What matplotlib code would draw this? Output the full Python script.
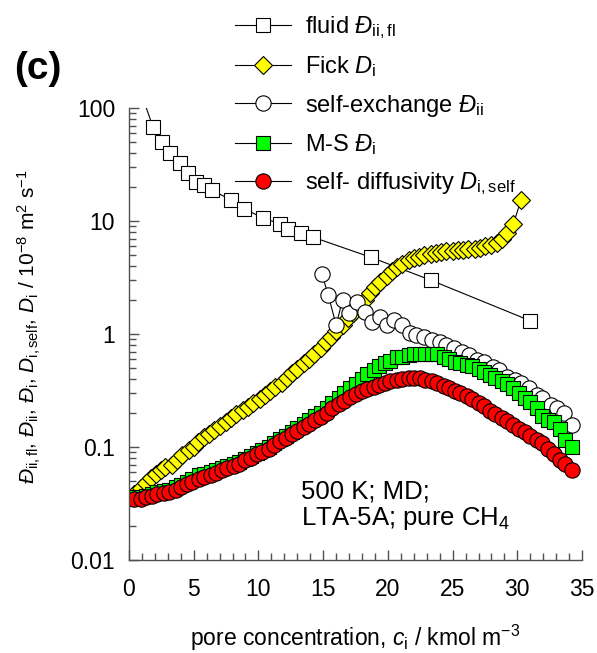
import numpy as np
import matplotlib
matplotlib.use("Agg")
import matplotlib.pyplot as plt

plt.rcParams['font.family'] = ['Liberation Sans', 'DejaVu Sans']
plt.rcParams['mathtext.fontset'] = 'custom'
plt.rcParams['mathtext.rm'] = 'Liberation Sans'
plt.rcParams['mathtext.it'] = 'Liberation Sans:italic'
plt.rcParams['mathtext.bf'] = 'Liberation Sans:bold'

# fluid phase MS diffusivity
c_fl = [1.0, 1.85, 2.54, 3.16, 3.93, 4.55, 5.17, 5.78, 6.40, 7.86, 8.89, 10.35,
        11.64, 12.28, 13.3, 14.2, 18.7, 23.3, 31.0]
D_fl = [130, 68, 50, 40, 32.6, 26.6, 22.1, 20.8, 18.8, 15.4, 12.9, 10.6,
        9.5, 8.45, 7.8, 7.2, 4.77, 3.0, 1.31]

# Fick diffusivity
c_fick = [0.4, 0.9, 1.3, 1.7, 2.1, 2.5, 2.8, 3.3, 3.7, 4.1, 4.6, 5.0, 5.3, 5.8,
          6.2, 6.6, 7.0, 7.5, 7.9, 8.3, 8.8, 9.2, 9.6, 10.1, 10.5, 10.9, 11.3,
          11.8, 12.2, 12.6, 13.0, 13.5, 13.9, 14.3, 14.8, 15.2, 15.6, 16.0,
          16.5, 16.9, 17.3, 17.7, 18.2, 18.6, 19.0, 19.4, 19.9, 20.3, 20.7,
          21.1, 21.6, 22.0, 22.4, 22.8, 23.3, 23.7, 24.1, 24.5, 25.0, 25.4,
          25.8, 26.2, 26.7, 27.1, 27.5, 28.0, 28.4, 28.8, 29.2, 29.7, 30.3]
D_fick = [0.038, 0.043, 0.048, 0.053, 0.058, 0.062, 0.066, 0.070, 0.077, 0.085,
          0.094, 0.100, 0.110, 0.122, 0.130, 0.142, 0.155, 0.168, 0.180, 0.195,
          0.212, 0.226, 0.245, 0.268, 0.29, 0.31, 0.34, 0.37, 0.41, 0.45, 0.49,
          0.55, 0.60, 0.67, 0.75, 0.85, 0.95, 1.07, 1.2, 1.38, 1.55, 1.78, 2.0,
          2.3, 2.6, 2.9, 3.25, 3.6, 3.9, 4.2, 4.5, 4.7, 4.85, 5.0, 5.1, 5.2,
          5.3, 5.4, 5.45, 5.5, 5.55, 5.6, 5.7, 5.8, 5.95, 6.1, 6.4, 7.0, 7.8,
          9.5, 15.5]

# self-exchange
c_ex = [14.9, 15.4, 16.0, 16.5, 17.0, 17.6, 18.2, 18.8, 19.4, 19.9, 20.5, 21.1,
        21.7, 22.2, 22.8, 23.4, 24.0, 24.5, 25.1, 25.7, 26.3, 26.9, 27.4, 28.1,
        28.6, 29.2, 29.8, 30.3, 30.9, 31.5, 31.9, 32.6, 33.1, 33.6, 34.2]
D_ex = [3.4, 2.2, 1.2, 2.0, 1.55, 1.92, 1.57, 1.28, 1.41, 1.2, 1.33, 1.2, 1.02,
        0.98, 0.94, 0.885, 0.85, 0.80, 0.75, 0.69, 0.65, 0.59, 0.56, 0.51, 0.48,
        0.42, 0.39, 0.37, 0.33, 0.29, 0.27, 0.235, 0.22, 0.20, 0.157]

# M-S and self diffusivity share the loadings
c_md = [0.4, 0.9, 1.3, 1.8, 2.2, 2.7, 3.1, 3.6, 4.0, 4.5, 4.9, 5.4, 5.8, 6.3,
        6.7, 7.2, 7.6, 8.1, 8.5, 9.0, 9.4, 9.9, 10.3, 10.8, 11.2, 11.7, 12.1,
        12.6, 13.0, 13.5, 13.9, 14.4, 14.8, 15.3, 15.7, 16.2, 16.6, 17.1, 17.5,
        18.0, 18.4, 18.9, 19.3, 19.8, 20.2, 20.7, 21.1, 21.6, 22.0, 22.5, 22.9,
        23.4, 23.8, 24.3, 24.7, 25.2, 25.6, 26.1, 26.5, 27.0, 27.4, 27.9, 28.3,
        28.8, 29.2, 29.7, 30.1, 30.6, 31.0, 31.5, 31.9, 32.4, 32.8, 33.3, 33.7,
        34.2]
D_ms = [0.036, 0.036, 0.037, 0.038, 0.040, 0.041, 0.042, 0.044, 0.046, 0.049,
        0.052, 0.056, 0.058, 0.060, 0.062, 0.065, 0.068, 0.071, 0.074, 0.079,
        0.083, 0.089, 0.095, 0.101, 0.109, 0.118, 0.126, 0.137, 0.147, 0.160,
        0.172, 0.187, 0.202, 0.22, 0.245, 0.27, 0.30, 0.33, 0.36, 0.40, 0.44,
        0.48, 0.52, 0.55, 0.58, 0.62, 0.63, 0.65, 0.66, 0.66, 0.67, 0.66, 0.66,
        0.63, 0.60, 0.57, 0.55, 0.53, 0.52, 0.49, 0.46, 0.43, 0.41, 0.38, 0.36,
        0.33, 0.30, 0.27, 0.25, 0.22, 0.19, 0.175, 0.165, 0.145, 0.115, 0.10]
D_self = [0.035, 0.035, 0.036, 0.037, 0.038, 0.039, 0.040, 0.042, 0.044, 0.047,
          0.049, 0.052, 0.054, 0.056, 0.059, 0.062, 0.065, 0.068, 0.071, 0.076,
          0.080, 0.086, 0.091, 0.097, 0.104, 0.112, 0.120, 0.130, 0.139, 0.150,
          0.160, 0.172, 0.185, 0.20, 0.222, 0.238, 0.255, 0.275, 0.295, 0.31,
          0.325, 0.34, 0.355, 0.37, 0.38, 0.39, 0.40, 0.41, 0.41, 0.405, 0.395,
          0.38, 0.365, 0.35, 0.335, 0.315, 0.30, 0.28, 0.265, 0.245, 0.23, 0.21,
          0.195, 0.18, 0.17, 0.158, 0.145, 0.135, 0.125, 0.115, 0.108, 0.097,
          0.086, 0.077, 0.071, 0.063]

fig = plt.figure(figsize=(5.97, 6.53), dpi=100)
ax = fig.add_axes([0.216, 0.1424, 0.759, 0.6922])

lw = 0.8
mew = 0.8
l1, = ax.plot(c_fl, D_fl, '-', color='k', lw=lw, marker='s', ms=10.5,
              mfc='white', mec='k', mew=mew, label=r'fluid $\mathit{Đ}_{\mathrm{ii,fl}}$')
l2, = ax.plot(c_fick, D_fick, '-', color='k', lw=lw, marker='D', ms=9.5,
              mfc='#ffff00', mec='k', mew=mew, label=r'Fick $\mathit{D}_{\mathrm{i}}$')
l3, = ax.plot(c_ex, D_ex, '-', color='k', lw=lw, marker='o', ms=11,
              mfc='white', mec='k', mew=mew, label=r'self-exchange $\mathit{Đ}_{\mathrm{ii}}$')
l4, = ax.plot(c_md, D_ms, '-', color='k', lw=lw, marker='s', ms=10,
              mfc='#00ff00', mec='k', mew=mew, label=r'M-S $\mathit{Đ}_{\mathrm{i}}$')
l5, = ax.plot(c_md, D_self, '-', color='k', lw=lw, marker='o', ms=11,
              mfc='#ff0000', mec='k', mew=mew, label=r'self- diffusivity $\mathit{D}_{\mathrm{i,self}}$')

ax.set_yscale('log')
ax.set_xlim(0, 35)
ax.set_ylim(0.01, 100)
ax.set_xticks([0, 5, 10, 15, 20, 25, 30, 35])
ax.set_xticks(np.arange(0, 36, 1), minor=True)
ax.set_yticks([0.01, 0.1, 1, 10, 100])
ax.set_yticklabels(['0.01', '0.1', '1', '10', '100'])
for s in ['top', 'right']:
    ax.spines[s].set_visible(False)
for s in ['left', 'bottom']:
    ax.spines[s].set_color('#505050')
    ax.spines[s].set_linewidth(1.0)
ax.tick_params(which='both', direction='in', color='#505050', labelsize=16.5, width=1.0)
ax.tick_params(which='major', length=7, pad=10)
ax.tick_params(axis='x', which='major', pad=13)
ax.tick_params(which='minor', length=5)

ax.set_xlabel(r'pore concentration, $\mathit{c}_{\mathrm{i}}$ / kmol m$^{-3}$',
              fontsize=16.5, labelpad=16)
fig.text(0.05, 0.5, r'$\mathit{Đ}_{\mathrm{ii,fl}}$, $\mathit{Đ}_{\mathrm{ii}}$, '
         r'$\mathit{Đ}_{\mathrm{i}}$, $\mathit{D}_{\mathrm{i,self}}$, $\mathit{D}_{\mathrm{i}}$'
         r' / 10$^{-8}$ m$^2$ s$^{-1}$', rotation=90, fontsize=15,
         ha='center', va='center')

ax.text(0.38, 0.12, '500 K; MD;\nLTA-5A; pure CH$_4$', transform=ax.transAxes,
        fontsize=18.5, ha='left', va='center', linespacing=1.1)

fig.text(0.063, 0.895, '(c)', fontsize=28, fontweight='bold', ha='center', va='center')

fig.legend(handles=[l1, l2, l3, l4, l5], loc='upper left',
           bbox_to_anchor=(0.374, 0.996), frameon=False, fontsize=17,
           handlelength=2.35, handletextpad=0.6, labelspacing=0.56,
           borderpad=0, numpoints=1)

fig.savefig('out.png', dpi=100)
